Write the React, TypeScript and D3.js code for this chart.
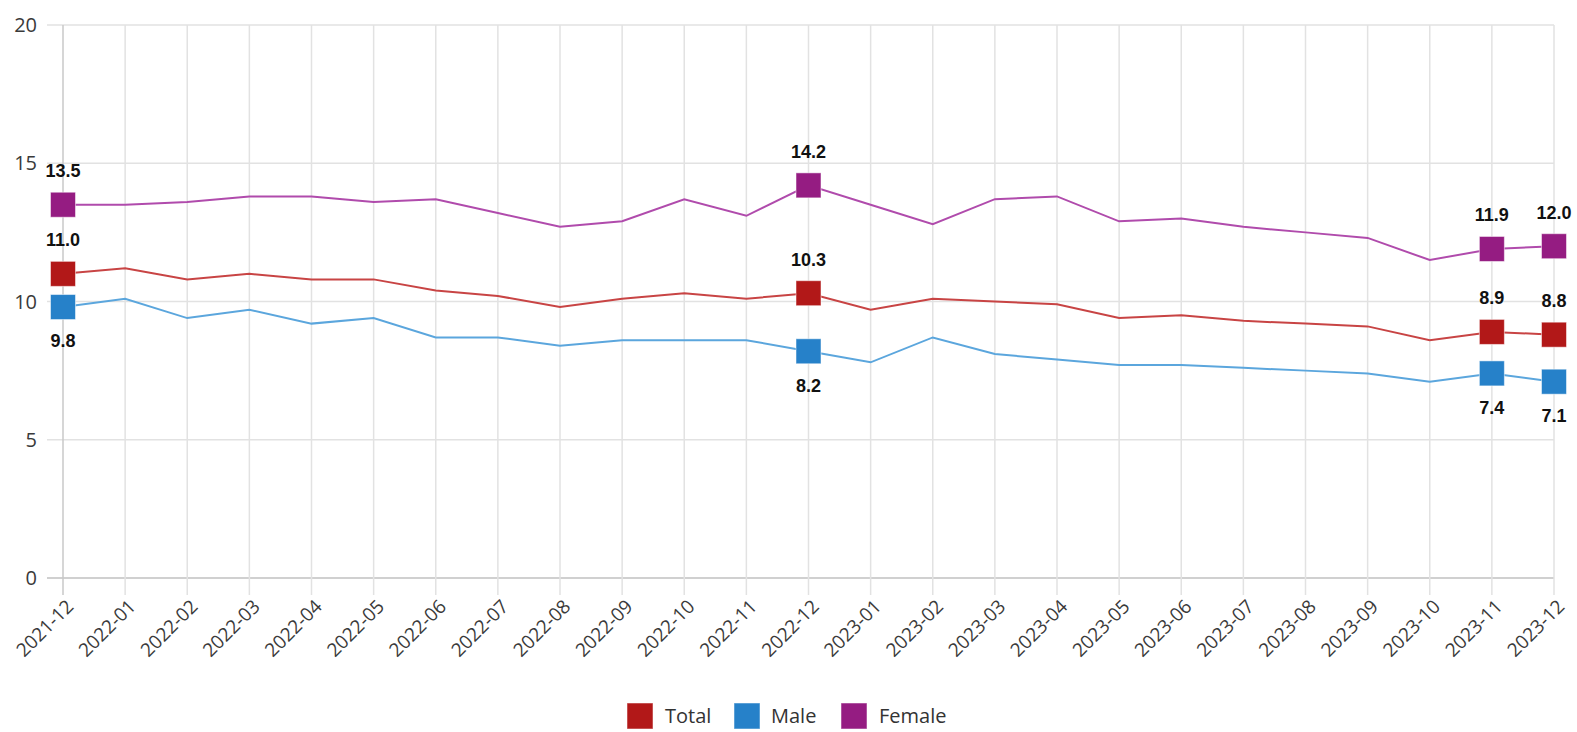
import React from "react";
import * as d3 from "d3";

const categories = ["2021-12","2022-01","2022-02","2022-03","2022-04","2022-05","2022-06","2022-07","2022-08","2022-09","2022-10","2022-11","2022-12","2023-01","2023-02","2023-03","2023-04","2023-05","2023-06","2023-07","2023-08","2023-09","2023-10","2023-11","2023-12"];
const totalValues = [11.0,11.2,10.8,11.0,10.8,10.8,10.4,10.2,9.8,10.1,10.3,10.1,10.3,9.7,10.1,10.0,9.9,9.4,9.5,9.3,9.2,9.1,8.6,8.9,8.8];
const maleValues = [9.8,10.1,9.4,9.7,9.2,9.4,8.7,8.7,8.4,8.6,8.6,8.6,8.2,7.8,8.7,8.1,7.9,7.7,7.7,7.6,7.5,7.4,7.1,7.4,7.1];
const femaleValues = [13.5,13.5,13.6,13.8,13.8,13.6,13.7,13.2,12.7,12.9,13.7,13.1,14.2,13.5,12.8,13.7,13.8,12.9,13.0,12.7,12.5,12.3,11.5,11.9,12.0];
const yTicks = [0, 5, 10, 15, 20];
const labeledIdx = [0, 12, 23, 24];

const series = [
  { name: "Total", values: totalValues, color: "#B21818", line: "#C84444", labelPos: "above" },
  { name: "Male", values: maleValues, color: "#2681C9", line: "#5BA6DD", labelPos: "below" },
  { name: "Female", values: femaleValues, color: "#951C82", line: "#B04BAC", labelPos: "above" },
];

export default function App() {
  const W = 1577, H = 732;
  const left = 63, right = 1554, top = 25, bottom = 578;
  const x = d3.scalePoint<string>().domain(categories).range([left, right]);
  const y = d3.scaleLinear().domain([0, 20]).range([bottom, top]);
  const line = d3.line<number>().x((_, i) => x(categories[i])!).y(d => y(d));
  const tickFont = "'Open Sans', 'Noto Sans', sans-serif";
  const ms = 25;

  const legendItems = [
    { name: "Total", color: "#B21818", sx: 627, tx: 665 },
    { name: "Male", color: "#2681C9", sx: 734, tx: 771 },
    { name: "Female", color: "#951C82", sx: 841, tx: 879 },
  ];

  return (
    <svg width={W} height={H} style={{ position: "absolute", left: 0, top: 0, background: "#fff" }}>
      {yTicks.map(t => (
        <line key={"h" + t} x1={47} x2={right} y1={y(t)} y2={y(t)} stroke={t === 0 ? "#d0d0d0" : "#e2e2e2"} strokeWidth={t === 0 ? 2 : 1.5} />
      ))}
      {categories.map((c, i) => (
        <line key={"v" + c} x1={x(c)} x2={x(c)} y1={top} y2={bottom + 17} stroke={i === 0 ? "#c8c8c8" : "#e2e2e2"} strokeWidth={1.5} />
      ))}
      {yTicks.map(t => (
        <text key={"yt" + t} x={37} y={y(t)} dy="0.35em" textAnchor="end" fontFamily={tickFont} fontSize={20} fill="#3a3a3a">{t}</text>
      ))}
      {categories.map(c => (
        <text key={"xt" + c} transform={`translate(${x(c)! + 7},${bottom + 25}) rotate(-45)`} textAnchor="end" fontFamily={tickFont} fontSize={19} fill="#3a3a3a" dy="0.35em">{c}</text>
      ))}
      {series.map(s => (
        <path key={"l" + s.name} d={line(s.values) || ""} fill="none" stroke={s.line} strokeWidth={2} />
      ))}
      {series.map(s => labeledIdx.map(i => (
        <rect key={"m" + s.name + i} x={x(categories[i])! - ms / 2} y={y(s.values[i]) - ms / 2} width={ms} height={ms} fill={s.color} stroke="#ffffff" strokeOpacity={0.5} strokeWidth={1} />
      )))}
      {series.map(s => labeledIdx.map(i => (
        <text key={"d" + s.name + i} x={x(categories[i])!} y={y(s.values[i]) + (s.labelPos === "above" ? -34 : 34)} dy="0.35em" textAnchor="middle" fontFamily="'Liberation Sans', Arial, sans-serif" fontWeight="bold" fontSize={18} fill="#111">{s.values[i].toFixed(1)}</text>
      )))}
      {legendItems.map(l => (
        <g key={"lg" + l.name}>
          <rect x={l.sx} y={703} width={26} height={26} fill={l.color} stroke="#fff" strokeOpacity={0.5} />
          <text x={l.tx} y={723} fontFamily={tickFont} fontSize={20} fill="#333">{l.name}</text>
        </g>
      ))}
    </svg>
  );
}
